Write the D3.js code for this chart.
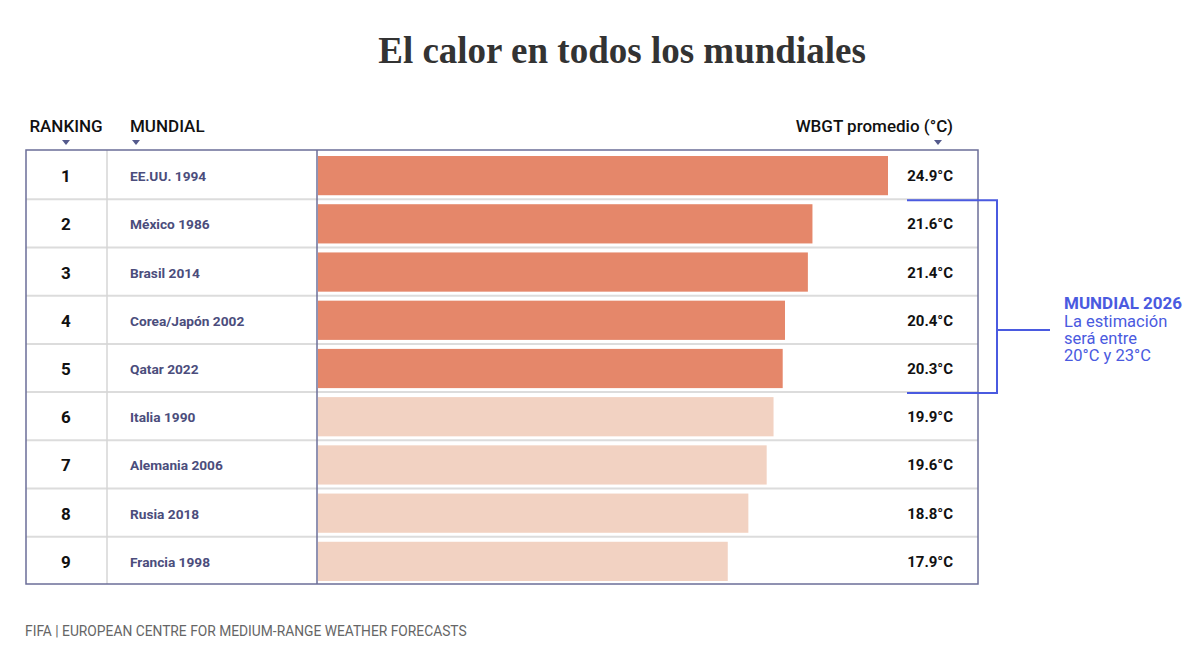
<!DOCTYPE html>
<html>
<head>
<meta charset="utf-8">
<script src="https://cdn.jsdelivr.net/npm/d3@7"></script>
<style>
  body { margin: 0; background: #fff; }
  svg { font-family: Roboto, "Noto Sans", sans-serif; }
</style>
</head>
<body>
<div id="chart"></div>
<script>
// data
const ranks = [1, 2, 3, 4, 5, 6, 7, 8, 9];
const mundiales = ["EE.UU. 1994", "México 1986", "Brasil 2014", "Corea/Japón 2002", "Qatar 2022",
                   "Italia 1990", "Alemania 2006", "Rusia 2018", "Francia 1998"];
const wbgt = [24.9, 21.6, 21.4, 20.4, 20.3, 19.9, 19.6, 18.8, 17.9];
const highlightCount = 5;
const noteLines = ["La estimación", "será entre", "20°C y 23°C"];

const svg = d3.select("#chart").append("svg")
    .attr("width", 1200)
    .attr("height", 648);

const table = { left: 26, right: 978, top: 150, bottom: 584 };
const colRank = 107, colBar = 317;

// title
svg.append("text")
    .attr("x", 622)
    .attr("y", 63)
    .attr("text-anchor", "middle")
    .attr("font-family", "'Liberation Serif', 'DejaVu Serif', serif")
    .attr("font-weight", "bold")
    .attr("font-size", 37)
    .attr("fill", "#333")
    .text("El calor en todos los mundiales");

const y = d3.scaleBand()
    .domain(ranks)
    .range([table.top, table.bottom]);

const x = d3.scaleLinear()
    .domain([0, 24.9])
    .range([colBar + 1, 888]);

// headers
const headers = [
    { label: "RANKING", x: 66, anchor: "middle", tri: 66 },
    { label: "MUNDIAL", x: 130, anchor: "start", tri: 136 },
    { label: "WBGT promedio (°C)", x: 953, anchor: "end", tri: 938 }
];
svg.selectAll(".hdr")
    .data(headers)
    .join("text")
    .attr("class", "hdr")
    .attr("x", d => d.x)
    .attr("y", 132)
    .attr("text-anchor", d => d.anchor)
    .attr("font-size", 17)
    .attr("font-weight", 500)
    .attr("fill", "#111")
    .text(d => d.label);

svg.selectAll(".tri")
    .data(headers)
    .join("path")
    .attr("class", "tri")
    .attr("d", d => `M${d.tri - 4},140 L${d.tri + 4},140 L${d.tri},145 Z`)
    .attr("fill", "#545a8c");

// row separators
svg.selectAll(".sep")
    .data(ranks.slice(1))
    .join("line")
    .attr("class", "sep")
    .attr("x1", table.left)
    .attr("x2", table.right)
    .attr("y1", d => y(d) + 1)
    .attr("y2", d => y(d) + 1)
    .attr("stroke", "#dcdcdc")
    .attr("stroke-width", 2);

// bars
svg.selectAll(".bar")
    .data(wbgt)
    .join("rect")
    .attr("class", "bar")
    .attr("x", x(0))
    .attr("y", (d, i) => y(ranks[i]) + 6)
    .attr("width", d => x(d) - x(0))
    .attr("height", y.bandwidth() - 9)
    .attr("fill", (d, i) => i < highlightCount ? "#e5876a" : "#f2d2c2");

// rank numbers
svg.selectAll(".rank")
    .data(ranks)
    .join("text")
    .attr("class", "rank")
    .attr("x", 66)
    .attr("y", d => y(d) + y.bandwidth() / 2 + 8)
    .attr("text-anchor", "middle")
    .attr("font-size", 17)
    .attr("font-weight", "bold")
    .attr("fill", "#111")
    .text(d => d);

// names
svg.selectAll(".name")
    .data(mundiales)
    .join("text")
    .attr("class", "name")
    .attr("x", 130)
    .attr("y", (d, i) => y(ranks[i]) + y.bandwidth() / 2 + 7)
    .attr("font-size", 13.7)
    .attr("font-weight", "bold")
    .attr("fill", "#4b4d7c")
    .text(d => d);

// values
svg.selectAll(".val")
    .data(wbgt)
    .join("text")
    .attr("class", "val")
    .attr("x", 953)
    .attr("y", (d, i) => y(ranks[i]) + y.bandwidth() / 2 + 7)
    .attr("text-anchor", "end")
    .attr("font-size", 15)
    .attr("font-weight", "bold")
    .attr("fill", "#111")
    .text(d => d.toFixed(1) + "°C");

// column dividers + frame
svg.append("line")
    .attr("x1", colRank).attr("x2", colRank)
    .attr("y1", table.top).attr("y2", table.bottom)
    .attr("stroke", "#d6d6d6").attr("stroke-width", 1.5);

svg.append("line")
    .attr("x1", colBar).attr("x2", colBar)
    .attr("y1", table.top).attr("y2", table.bottom)
    .attr("stroke", "#6b6e98").attr("stroke-width", 1.5);

svg.append("rect")
    .attr("x", table.left).attr("y", table.top)
    .attr("width", table.right - table.left)
    .attr("height", table.bottom - table.top)
    .attr("fill", "none")
    .attr("stroke", "#6b6e98").attr("stroke-width", 1.5);

// bracket for 2026 note (rows 2-5)
const blue = "#4a5ae0";
const bTop = y(2) + 2, bBot = y(6) + 2, bX = 997;
svg.append("path")
    .attr("d", `M907,${bTop} H${bX} V${bBot} H907`)
    .attr("fill", "none")
    .attr("stroke", blue)
    .attr("stroke-width", 2);

svg.append("line")
    .attr("x1", bX).attr("x2", 1050)
    .attr("y1", 330).attr("y2", 330)
    .attr("stroke", blue).attr("stroke-width", 2);

svg.append("text")
    .attr("x", 1064)
    .attr("y", 309)
    .attr("font-size", 17)
    .attr("font-weight", "bold")
    .attr("fill", blue)
    .text("MUNDIAL 2026");

svg.selectAll(".note")
    .data(noteLines)
    .join("text")
    .attr("class", "note")
    .attr("x", 1064)
    .attr("y", (d, i) => 327 + i * 17)
    .attr("font-size", 16.5)
    .attr("fill", blue)
    .text(d => d);

// source
svg.append("text")
    .attr("x", 25)
    .attr("y", 636)
    .attr("font-size", 13.8)
    .attr("fill", "#666")
    .text("FIFA | EUROPEAN CENTRE FOR MEDIUM-RANGE WEATHER FORECASTS");
</script>
</body>
</html>
